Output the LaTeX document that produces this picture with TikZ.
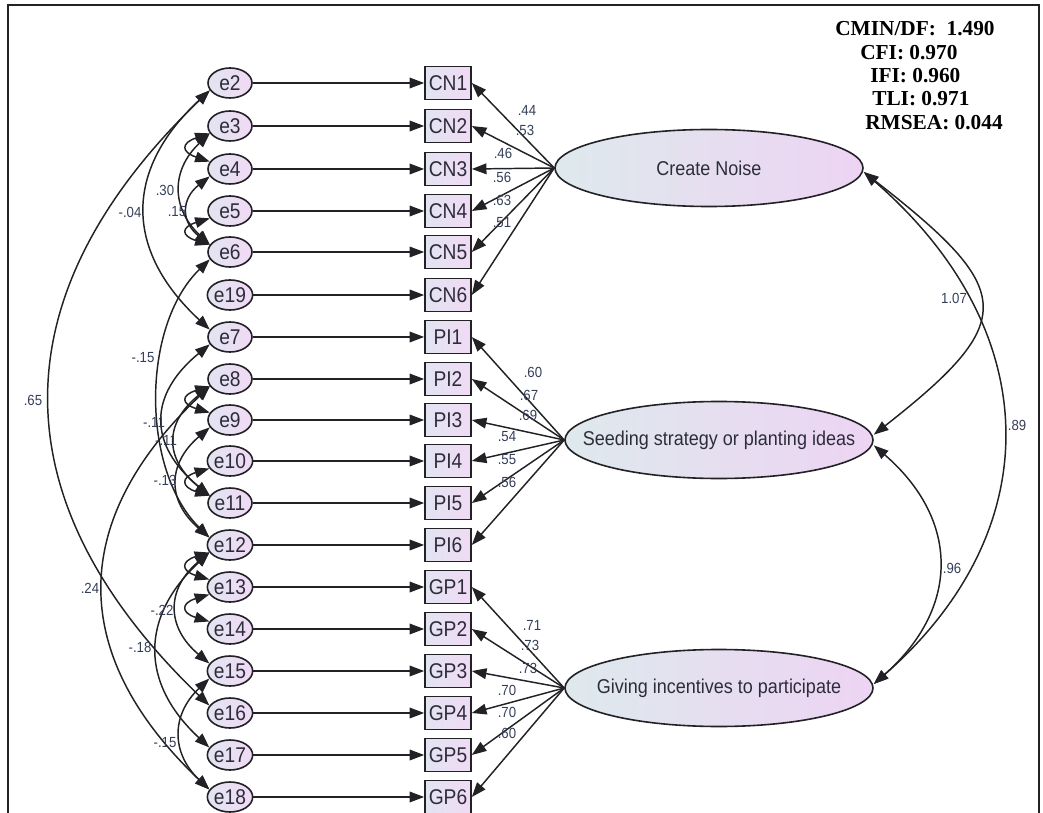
\documentclass[tikz,border=0pt]{standalone}
\usepackage{fontspec}
\setmainfont[FakeStretch=0.9]{Liberation Sans}
\newfontfamily\statfont{Liberation Serif}
\usetikzlibrary{arrows.meta,shapes.geometric}
\definecolor{linegray}{RGB}{34,34,38}
\definecolor{txtgray}{RGB}{45,45,58}
\definecolor{numblue}{RGB}{52,62,88}
\definecolor{errleft}{RGB}{226,228,242}
\definecolor{errright}{RGB}{240,218,244}
\definecolor{latleft}{RGB}{222,233,237}
\definecolor{latright}{RGB}{237,212,243}
\begin{document}
\begin{tikzpicture}[x=0.75pt,y=-0.75pt,
  err/.style={ellipse,draw=linegray,line width=1.2pt,left color=errleft,right color=errright,minimum width=33pt,minimum height=22.5pt,inner sep=0pt,text=txtgray,font=\fontsize{16}{16}\selectfont},
  obs/.style={rectangle,draw=linegray,line width=1.2pt,left color=errleft,right color=errright,minimum width=34.5pt,minimum height=24.75pt,inner sep=0pt,text=txtgray,font=\fontsize{16}{16}\selectfont},
  lat/.style={ellipse,draw=linegray,line width=1.2pt,left color=latleft,right color=latright,minimum width=231pt,minimum height=57.75pt,inner sep=0pt,text=txtgray,font=\fontsize{15}{15}\selectfont},
  reg/.style={-{Triangle[length=11pt,width=8pt]},line width=1.1pt,draw=linegray},
  cov/.style={{Triangle[length=11pt,width=8pt]}-{Triangle[length=11pt,width=8pt]},line width=1.1pt,draw=linegray},
  num/.style={inner sep=0pt,text=numblue,font=\fontsize{11}{11}\selectfont},
  stat/.style={inner sep=0pt,anchor=west,font=\statfont\bfseries\fontsize{16}{16}\selectfont}]
\useasboundingbox (0,0) rectangle (1043,813);
\draw[linegray,line width=1.5pt] (8,813) -- (8,5) -- (1039,5) -- (1039,813);

% error terms and indicators
\foreach \e/\v/\y in {e2/CN1/83,e3/CN2/126,e4/CN3/169,e5/CN4/211,e6/CN5/252,e19/CN6/295,
  e7/PI1/337,e8/PI2/379,e9/PI3/420,e10/PI4/461,e11/PI5/503,e12/PI6/545,
  e13/GP1/587,e14/GP2/629,e15/GP3/671,e16/GP4/713,e17/GP5/755,e18/GP6/797} {
  \node[err] (\e) at (230,\y) {\e};
  \node[obs] (\v) at (448,\y) {\v};
  \draw[reg] (\e) -- (\v);
}

% latent factors
\node[lat] (cn) at (709,168) {\makebox[0pt]{Create Noise}};
\node[lat] (si) at (719,440) {\makebox[0pt]{Seeding strategy or planting ideas}};
\node[lat] (gp) at (719,688) {\makebox[0pt]{Giving incentives to participate}};
\foreach \i in {1,...,6} {
  \draw[reg] (cn.west) -- (CN\i.east);
  \draw[reg] (si.west) -- (PI\i.east);
  \draw[reg] (gp.west) -- (GP\i.east);
}
\foreach \v/\x/\y [count=\i] in {.44/527/110,.53/525/130,.46/503/153,.56/502/177,.63/502/200,.51/502/223}
  \node[num] (lcn\i) at (\x,\y) {\v};
\foreach \v/\x/\y [count=\i] in {.60/533/372,.67/529/395,.69/528/415,.54/507/437,.55/507/460,.56/507/482}
  \node[num] (lsi\i) at (\x,\y) {\v};
\foreach \v/\x/\y [count=\i] in {.71/532/625,.73/530/645,.73/528/668,.70/507/690,.70/507/712,.60/507/733}
  \node[num] (lgp\i) at (\x,\y) {\v};

% factor covariances
\draw[cov] ([yshift=-3pt]cn.east) .. controls (1015,290) and (1020,320) .. ([yshift=4pt]si.east);
\draw[cov] ([yshift=-3pt]cn.east) .. controls (1046,330) and (1050,530) .. ([yshift=3pt]gp.east);
\draw[cov] ([yshift=-4pt]si.east) .. controls (960,520) and (960,608) .. ([yshift=3pt]gp.east);
\node[num] (r107) at (954,298) {1.07};
\node[num] (r89) at (1017,425) {.89};
\node[num] (r96) at (952,568) {.96};

% error covariances
\draw[cov] (e2.200) .. controls (-3,295) and (-3,501) .. (e16.160);
\draw[cov] (e2.200) .. controls (124,170) and (124,250) .. (e7.160);
\draw[cov] (e3.200) .. controls (181,143) and (181,152) .. (e4.160);
\draw[cov] (e3.200) .. controls (171,170) and (171,208) .. (e6.160);
\draw[cov] (e4.200) .. controls (181,199) and (181,222) .. (e6.160);
\draw[cov] (e5.200) .. controls (181,227) and (181,236) .. (e6.160);
\draw[cov] (e6.200) .. controls (141,326) and (141,470) .. (e12.160);
\draw[cov] (e7.200) .. controls (148,395) and (148,445) .. (e11.160);
\draw[cov] (e8.200) .. controls (181,395) and (181,404) .. (e9.160);
\draw[cov] (e8.200) .. controls (164,423) and (164,459) .. (e11.160);
\draw[cov] (e10.200) .. controls (181,477) and (181,487) .. (e11.160);
\draw[cov] (e9.200) .. controls (167,464) and (167,501) .. (e12.160);
\draw[cov] (e8.200) .. controls (68,521) and (68,655) .. (e18.160);
\draw[cov] (e12.200) .. controls (181,561) and (181,571) .. (e13.160);
\draw[cov] (e13.200) .. controls (181,603) and (181,613) .. (e14.160);
\draw[cov] (e12.200) .. controls (166,589) and (166,627) .. (e15.160);
\draw[cov] (e12.200) .. controls (140,617) and (140,683) .. (e17.160);
\draw[cov] (e15.200) .. controls (171,715) and (171,753) .. (e18.160);
\node[num] (c65) at (33,400) {.65};
\node[num] (c04) at (130,212) {-.04};
\node[num] (c30) at (165,190) {.30};
\node[num] (c15a) at (177,212) {.15};
\node[num] (c15b) at (143,358) {-.15};
\node[num] (c11a) at (154,422) {-.11};
\node[num] (c11b) at (166,440) {-.11};
\node[num] (c13) at (165,480) {-.13};
\node[num] (c24) at (90,588) {.24};
\node[num] (c22) at (162,610) {-.22};
\node[num] (c18) at (140,647) {-.18};
\node[num] (c15c) at (165,743) {-.15};

% fit indices
\node[stat] (cmin) at (835,29) {CMIN/DF:\ \ 1.490};
\node[stat] (cfi) at (860,53) {CFI: 0.970};
\node[stat] (ifi) at (870,76) {IFI: 0.960};
\node[stat] (tli) at (872,99) {TLI: 0.971};
\node[stat] (rmsea) at (865,123) {RMSEA: 0.044};
\end{tikzpicture}
\end{document}
